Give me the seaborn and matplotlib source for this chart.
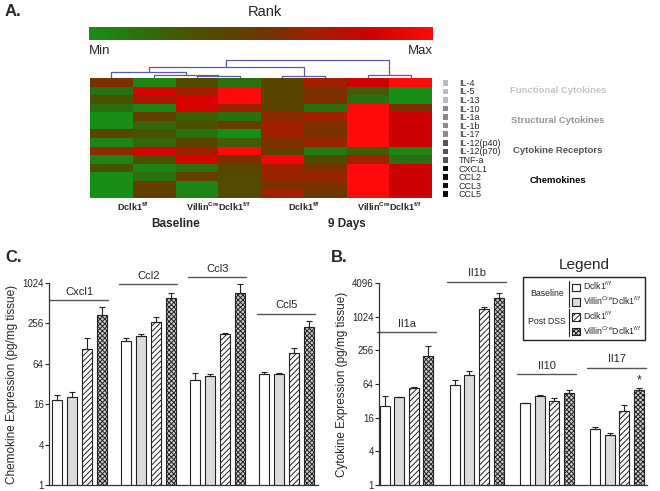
import numpy as np
import pandas as pd
import matplotlib.pyplot as plt
import matplotlib.transforms as mtransforms
import seaborn as sns
from matplotlib.colors import LinearSegmentedColormap, ListedColormap
from matplotlib.cm import ScalarMappable
from matplotlib.patches import Patch, Rectangle
from matplotlib.lines import Line2D
from matplotlib.ticker import NullLocator

# ---------------- Panel A: rank heatmap ----------------
cytokines = ["IL-4", "IL-5", "IL-13", "IL-10", "IL-1a", "IL-1b", "IL-17",
             "IL-12(p40)", "IL-12(p70)", "TNF-a", "CXCL1", "CCL2", "CCL3", "CCL5"]
cyto_group = [0, 0, 0, 1, 1, 1, 1, 2, 2, 2, 3, 3, 3, 3]
group_names = ["Functional Cytokines", "Structural Cytokines",
               "Cytokine Receptors", "Chemokines"]
group_grays = ["#bdbdbd", "#8a8a8a", "#555555", "#0a0a0a"]
group_text = ["#c6c6c6", "#959595", "#555555", "#000000"]
genotypes = [r"Dclk1$^{\mathbf{f/f}}$", r"Villin$^{\mathbf{Cre}}$Dclk1$^{\mathbf{f/f}}$"]
timepoints = ["Baseline", "9 Days"]

# rank (0 = min, 1 = max), rows = cytokines, cols = 8 mice
rank = np.array([
    [0.55, 0.05, 0.35, 0.15, 0.40, 0.65, 0.82, 1.00],
    [0.15, 0.85, 0.65, 1.00, 0.40, 0.55, 0.25, 0.00],
    [0.30, 0.70, 0.85, 1.00, 0.40, 0.55, 0.15, 0.00],
    [0.15, 0.05, 0.85, 0.65, 0.40, 0.15, 1.00, 0.55],
    [0.00, 0.45, 0.25, 0.15, 0.60, 0.65, 1.00, 0.82],
    [0.00, 0.20, 0.30, 0.45, 0.65, 0.55, 1.00, 0.82],
    [0.40, 0.30, 0.15, 0.00, 0.65, 0.55, 1.00, 0.82],
    [0.05, 0.20, 0.40, 0.25, 0.55, 0.62, 1.00, 0.82],
    [0.60, 0.85, 0.65, 1.00, 0.45, 0.10, 0.25, 0.05],
    [0.05, 0.30, 0.85, 0.55, 0.95, 0.35, 0.65, 0.15],
    [0.30, 0.05, 0.15, 0.40, 0.65, 0.55, 1.00, 0.82],
    [0.00, 0.15, 0.45, 0.35, 0.62, 0.62, 1.00, 0.82],
    [0.00, 0.45, 0.05, 0.35, 0.55, 0.55, 1.00, 0.82],
    [0.00, 0.45, 0.05, 0.35, 0.65, 0.50, 1.00, 0.82],
])

# column clustering (left, right, height) scipy-style, new clusters numbered from 8
linkage = [(2, 3, 2), (1, 8, 3), (4, 5, 2), (6, 7, 3), (0, 9, 6), (12, 10, 11), (13, 11, 18)]

# ---------------- Panels C / B: bar data ----------------
cond_labels = [r"Dclk1$^{f/f}$", r"Villin$^{Cre}$Dclk1$^{f/f}$",
               r"Dclk1$^{f/f}$", r"Villin$^{Cre}$Dclk1$^{f/f}$"]
cond_keys = ["base_wt", "base_ko", "dss_wt", "dss_ko"]
bar_faces = ["white", "#dcdcdc", "white", "#cfcfcf"]
bar_hatches = ["", "", "//////", "xxxxxxx"]

chemo_names = ["Cxcl1", "Ccl2", "Ccl3", "Ccl5"]
chemo_base_wt = [18.3, 139, 36.4, 45]
chemo_base_ko = [20.7, 165, 42.6, 45.6]
chemo_dss_wt = [106, 265, 176, 92]
chemo_dss_ko = [343, 602, 738, 226]
chemo_sem_base_wt = [3.4, 17, 10.6, 3]
chemo_sem_base_ko = [3.5, 16, 2.4, 0.4]
chemo_sem_dss_wt = [50, 59, 8, 17]
chemo_sem_dss_ko = [102, 136, 262, 51]
chemo_bracket = [571, 980, 1253, 355]

cyto_names = ["Il1a", "Il1b", "Il10", "Il17"]
cyto_base_wt = [26.4, 62, 29.5, 9.9]
cyto_base_ko = [37.2, 92, 39.7, 7.8]
cyto_dss_wt = [53.7, 1400, 32.4, 21]
cyto_dss_ko = [200, 2190, 43.7, 50.7]
cyto_sem_base_wt = [13.3, 15, 0, 1]
cyto_sem_base_ko = [0.3, 18, 1.3, 0.8]
cyto_sem_dss_wt = [3.3, 140, 4.2, 6.5]
cyto_sem_dss_ko = [100, 490, 7, 4.3]
cyto_bracket = [540, 4300, 96, 126]
cyto_star = [False, False, False, True]

sns.set_style("ticks")
plt.rcParams["font.family"] = ["Liberation Sans", "DejaVu Sans"]
plt.rcParams["mathtext.fontset"] = "custom"
plt.rcParams["mathtext.rm"] = "Liberation Sans"
plt.rcParams["mathtext.bf"] = "Liberation Sans:bold"
plt.rcParams["mathtext.it"] = "Liberation Sans:italic"
plt.rcParams["hatch.linewidth"] = 0.7

W, H = 660, 491
fig = plt.figure(figsize=(W / 100, H / 100), dpi=100)


def box(x0, y0, x1, y1):
    return [x0 / W, 1 - y1 / H, (x1 - x0) / W, (y1 - y0) / H]


def ftext(x, y, s, **kw):
    fig.text(x / W, 1 - y / H, s, **kw)


rank_cmap = LinearSegmentedColormap.from_list("rank", [
    (0.0, "#198e16"), (0.15, "#2a7010"), (0.3, "#4a5200"), (0.42, "#5c4200"),
    (0.55, "#7a3000"), (0.65, "#a02000"), (0.82, "#cc0202"), (1.0, "#ff0a0a")])

# colour bar
ax_cb = fig.add_axes(box(89, 27, 433, 40))
cb = fig.colorbar(ScalarMappable(cmap=rank_cmap), cax=ax_cb, orientation="horizontal")
cb.set_ticks([])
cb.outline.set_visible(False)
ftext(265, 12, "Rank", ha="center", va="center", fontsize=10.5)
ftext(89, 51, "Min", ha="left", va="center", fontsize=9.5)
ftext(433, 51, "Max", ha="right", va="center", fontsize=9.5)
ftext(5, 12, "A.", ha="left", va="center", fontsize=12, fontweight="bold")

# dendrogram
ax_dn = fig.add_axes(box(90, 57, 432, 78))
pos = {i: i + 0.5 for i in range(8)}
hgt = {i: 0 for i in range(8)}
for k, (a, b, h) in enumerate(linkage):
    ax_dn.plot([pos[a], pos[a], pos[b], pos[b]], [hgt[a], h, h, hgt[b]],
               color="#5a5aa5", lw=0.9)
    pos[8 + k] = (pos[a] + pos[b]) / 2
    hgt[8 + k] = h
ax_dn.set_xlim(0, 8)
ax_dn.set_ylim(0, 21)
ax_dn.axis("off")

# heatmap
ax_hm = fig.add_axes(box(90, 78, 432, 198))
sns.heatmap(pd.DataFrame(rank, index=cytokines), cmap=rank_cmap, vmin=0, vmax=1,
            cbar=False, xticklabels=False, yticklabels=False, ax=ax_hm)
for t, tp in enumerate(timepoints):
    for g, gt in enumerate(genotypes):
        ax_hm.text(4 * t + 2 * g + 1, 15.05, gt, ha="center", va="center",
                   fontsize=6.5, fontweight="bold", clip_on=False)
    ax_hm.text(4 * t + 2, 17.05, tp, ha="center", va="center",
               fontsize=8.5, fontweight="bold", clip_on=False)

# group colour strip
ax_st = fig.add_axes(box(441, 78, 449, 198))
sns.heatmap(np.array(cyto_group)[:, None], cmap=ListedColormap(group_grays),
            vmin=-0.5, vmax=3.5, cbar=False, linewidths=0.8, linecolor="white",
            xticklabels=False, yticklabels=cytokines, ax=ax_st)
ax_st.yaxis.tick_right()
ax_st.tick_params(axis="y", length=0, pad=7, labelsize=6.5, labelrotation=0)
trans = mtransforms.blended_transform_factory(fig.transFigure, ax_st.transData)
for g, name in enumerate(group_names):
    rows = [i for i, v in enumerate(cyto_group) if v == g]
    ax_st.text(558 / W, np.mean(rows) + 0.5, name, transform=trans, ha="center",
               va="center", fontsize=6.8, fontweight="bold", color=group_text[g])


# ---------------- bar panels ----------------
def bar_panel(ax, names, series, sems, brackets, top, width, gap, xlim, stars=None):
    df = pd.DataFrame({
        "gene": np.tile(names, len(cond_keys)),
        "cond": np.repeat(cond_keys, len(names)),
        "value": np.concatenate(series),
    })
    sns.barplot(data=df, x="gene", y="value", hue="cond", order=names,
                hue_order=cond_keys, palette=dict(zip(cond_keys, bar_faces)),
                width=width, gap=gap, errorbar=None, legend=False,
                edgecolor="#222222", linewidth=0.8, ax=ax)
    bars = list(ax.containers)
    for c, cont in enumerate(bars):
        xs, ys = [], []
        for p in cont.patches:
            p.set_hatch(bar_hatches[c])
            xs.append(p.get_x() + p.get_width() / 2)
            ys.append(p.get_height())
        ax.errorbar(xs, ys, yerr=[np.zeros(len(xs)), sems[c]], fmt="none",
                    ecolor="#222222", elinewidth=0.8, capsize=2.5, capthick=0.8)
    ax.set_yscale("log", base=2)
    ax.set_ylim(1, top)
    ticks = [4 ** k for k in range(int(round(np.log(top) / np.log(4))) + 1)]
    ax.set_yticks(ticks)
    ax.set_yticklabels([str(t) for t in ticks])
    ax.yaxis.set_minor_locator(NullLocator())
    ax.set_xticks([])
    ax.set_xlabel("")
    ax.set_xlim(*xlim)
    sns.despine(ax=ax)
    for s in ("left", "bottom"):
        ax.spines[s].set_linewidth(0.9)
        ax.spines[s].set_color("#333333")
    ax.tick_params(axis="y", length=3, width=0.8, labelsize=7, pad=1)
    for i, (name, b) in enumerate(zip(names, brackets)):
        ax.add_line(Line2D([i - 0.42, i + 0.42], [b, b], color="#555555", lw=1,
                           clip_on=False))
        ax.annotate(name, (i, b), xytext=(0, 2.5), textcoords="offset points",
                    ha="center", va="bottom", fontsize=8, annotation_clip=False)
    if stars is not None:
        last = bars[-1].patches
        for i, st in enumerate(stars):
            if st:
                p = last[i]
                ax.annotate("*", (p.get_x() + p.get_width() / 2,
                                  p.get_height() + sems[-1][i]),
                            xytext=(0, 1), textcoords="offset points",
                            ha="center", va="bottom", fontsize=9)


ax_c = fig.add_axes(box(49.3, 283, 318, 485))
bar_panel(ax_c, chemo_names,
          [chemo_base_wt, chemo_base_ko, chemo_dss_wt, chemo_dss_ko],
          [chemo_sem_base_wt, chemo_sem_base_ko, chemo_sem_dss_wt, chemo_sem_dss_ko],
          chemo_bracket, 1024, 0.87, 0.33, (-0.433, 3.46))
ax_c.set_ylabel("Chemokine Expression (pg/mg tissue)", fontsize=8.5, labelpad=3)
ftext(5, 258, "C.", ha="left", va="center", fontsize=12, fontweight="bold")

ax_b = fig.add_axes(box(379.3, 283, 647, 485))
bar_panel(ax_b, cyto_names,
          [cyto_base_wt, cyto_base_ko, cyto_dss_wt, cyto_dss_ko],
          [cyto_sem_base_wt, cyto_sem_base_ko, cyto_sem_dss_wt, cyto_sem_dss_ko],
          cyto_bracket, 4096, 0.83, 0.31, (-0.39, 3.43), stars=cyto_star)
ax_b.set_ylabel("Cytokine Expression (pg/mg tissue)", fontsize=8.5, labelpad=3)
ftext(331, 258, "B.", ha="left", va="center", fontsize=12, fontweight="bold")

# legend
handles = [Patch(facecolor=f, edgecolor="#222222", hatch=h, linewidth=0.8)
           for f, h in zip(bar_faces, bar_hatches)]
fig.legend(handles, cond_labels, loc="upper left",
           bbox_to_anchor=(571 / W, 1 - 279 / H), frameon=False, fontsize=6.3,
           handlelength=0.9, handleheight=0.9, labelspacing=0.28,
           handletextpad=0.35, borderpad=0.1, borderaxespad=0)
fig.add_artist(Rectangle((523 / W, 1 - 340 / H), 122 / W, 63 / H,
                         transform=fig.transFigure, fill=False,
                         edgecolor="#222222", lw=1))
for y0, y1 in ((281, 307), (309, 336)):
    fig.add_artist(Line2D([569 / W, 569 / W], [1 - y0 / H, 1 - y1 / H],
                          transform=fig.transFigure, color="#222222", lw=0.8))
ftext(547, 294, "Baseline", ha="center", va="center", fontsize=6.3)
ftext(547, 321, "Post DSS", ha="center", va="center", fontsize=6.3)
ftext(584, 265, "Legend", ha="center", va="center", fontsize=11)

fig.savefig("out.png", dpi=100)
